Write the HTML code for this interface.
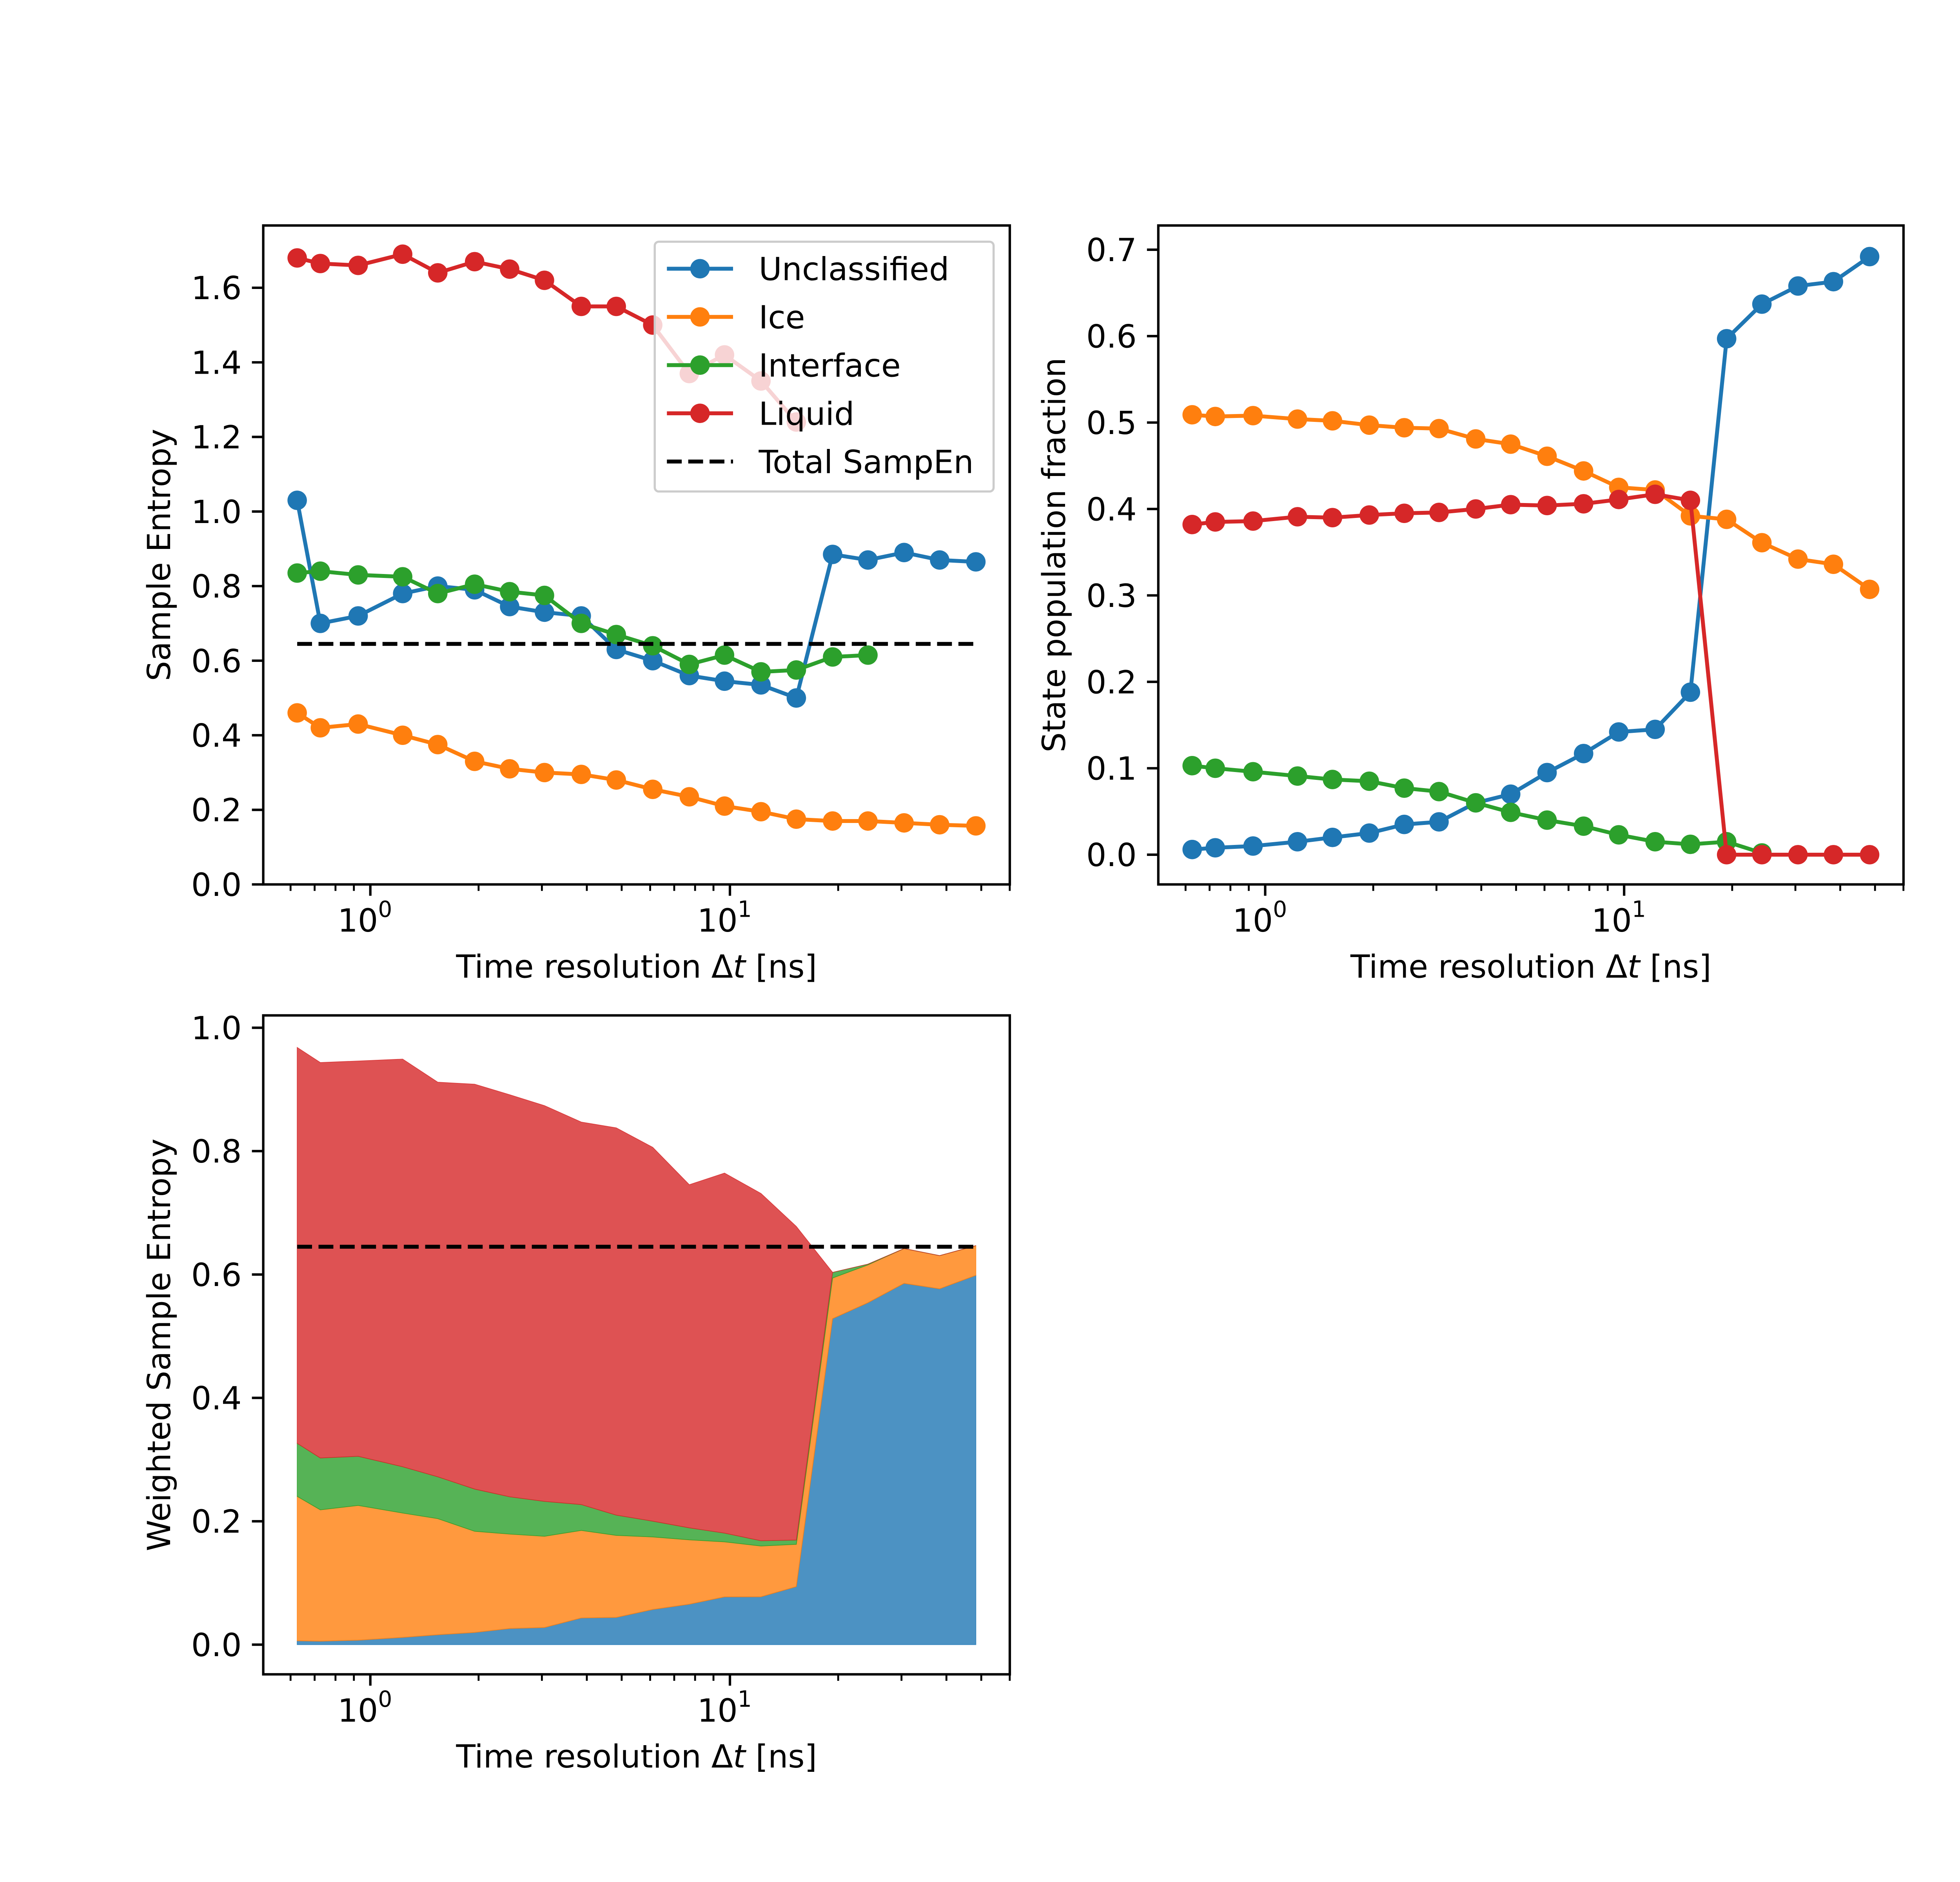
<!DOCTYPE html>
<html><head><meta charset="utf-8"><style>
html,body{margin:0;padding:0;background:#fff;overflow:hidden;width:5400px;height:4800px}
svg{display:block}
text{font-family:"DejaVu Sans","Liberation Sans",sans-serif;fill:#000}
</style></head><body>
<svg id="fig" xmlns="http://www.w3.org/2000/svg" width="5400" height="4800" viewBox="0 0 1568 1393.8" preserveAspectRatio="none">
<rect width="1568" height="1393.8" fill="#fff"/>
</svg>
<script>
const timeRes=[0.626,0.726,0.925,1.23,1.54,1.95,2.44,3.05,3.86,4.83,6.10,7.71,9.66,12.2,15.3,19.3,24.2,30.5,38.3,48.3];
const seUnclassified=[1.03,0.70,0.72,0.78,0.80,0.79,0.745,0.73,0.72,0.63,0.60,0.56,0.545,0.535,0.50,0.885,0.87,0.89,0.87,0.865];
const seIce=[0.46,0.42,0.43,0.40,0.375,0.33,0.31,0.30,0.295,0.28,0.255,0.235,0.21,0.195,0.175,0.17,0.17,0.165,0.16,0.157];
const seInterface=[0.835,0.84,0.83,0.825,0.78,0.805,0.785,0.775,0.70,0.67,0.64,0.59,0.615,0.57,0.575,0.61,0.615];
const seLiquid=[1.68,1.665,1.66,1.69,1.64,1.67,1.65,1.62,1.55,1.55,1.50,1.37,1.42,1.35,1.24];
const totalSampEn=0.645;
const popUnclassified=[0.006,0.008,0.01,0.015,0.02,0.025,0.035,0.038,0.06,0.07,0.095,0.117,0.142,0.145,0.188,0.597,0.637,0.658,0.663,0.692];
const popIce=[0.509,0.507,0.508,0.504,0.502,0.497,0.494,0.493,0.481,0.475,0.461,0.444,0.425,0.422,0.392,0.388,0.361,0.342,0.336,0.307];
const popInterface=[0.103,0.100,0.096,0.091,0.087,0.085,0.077,0.073,0.06,0.049,0.040,0.033,0.023,0.015,0.012,0.015,0.002];
const popLiquid=[0.382,0.385,0.386,0.391,0.390,0.393,0.395,0.396,0.400,0.405,0.404,0.406,0.411,0.417,0.410,0.0,0.0,0.0,0.0,0.0];
const yTicksSE=[0,0.2,0.4,0.6,0.8,1.0,1.2,1.4,1.6];
const yTicksPop=[0,0.1,0.2,0.3,0.4,0.5,0.6,0.7];
const yTicksW=[0,0.2,0.4,0.6,0.8,1.0];
const xTickExp=[0,1];
const seriesNames=["Unclassified","Ice","Interface","Liquid"];
const colors=["#1f77b4","#ff7f0e","#2ca02c","#d62728"];

const NS="http://www.w3.org/2000/svg";
const fig=document.getElementById('fig');
function mk(tag,attrs,parent){const e=document.createElementNS(NS,tag);for(const k in attrs)e.setAttribute(k,attrs[k]);(parent||fig).appendChild(e);return e;}
const FS=23.5, LW=2.9, AW=1.8, MR=7.2, DASH='11,4.8';

const lmin=Math.log10(timeRes[0]),lmax=Math.log10(timeRes[timeRes.length-1]);
const pad=(lmax-lmin)*0.05;
function makeAxes(name,x0,y0,w,h,ymin,ymax){
  const g=mk('g',{});
  
  
  return {g,x0,y0,w,h,
    sx:v=>x0+(Math.log10(v)-(lmin-pad))/((lmax+pad)-(lmin-pad))*w,
    sy:v=>y0+h-(v-ymin)/(ymax-ymin)*h};
}
function drawFrame(ax,yticks,ylabel){
  const g=ax.g;
  const fr=mk('rect',{x:ax.x0,y:ax.y0,width:ax.w,height:ax.h,fill:'none',stroke:'#000','stroke-width':AW},g);
  
  const yb=ax.y0+ax.h;
  for(let e=-1;e<=1;e++)for(let m=2;m<=9;m++){const v=m*Math.pow(10,e);const x=ax.sx(v);
    if(x<ax.x0||x>ax.x0+ax.w)continue;
    const t=mk('line',{x1:x,x2:x,y1:yb,y2:yb+4.8,stroke:'#000','stroke-width':1.4},g);
    }
  xTickExp.forEach(p=>{const x=ax.sx(Math.pow(10,p));
    const t=mk('line',{x1:x,x2:x,y1:yb,y2:yb+8.4,stroke:'#000','stroke-width':AW},g);
    
    const tx=mk('text',{x:x-4,y:yb+35,'font-size':FS,'text-anchor':'middle'},g);
    
    tx.textContent='10';
    const sup=mk('tspan',{dy:-11,'font-size':FS*0.7},tx);sup.textContent=String(p);
  });
  yticks.forEach(v=>{const y=ax.sy(v);
    const t=mk('line',{x1:ax.x0-8.4,x2:ax.x0,y1:y,y2:y,stroke:'#000','stroke-width':AW},g);
    
    const tx=mk('text',{x:ax.x0-16,y:y+8.5,'font-size':FS,'text-anchor':'end'},g);
    
    tx.textContent=v.toFixed(1);});
  const xl=mk('text',{x:ax.x0+ax.w/2,y:yb+69,'font-size':FS,'text-anchor':'middle'},g);
  
  xl.innerHTML='Time resolution Δ<tspan font-style="italic">t</tspan> [ns]';
  const yl=mk('text',{x:0,y:0,'font-size':FS,'text-anchor':'middle',transform:`translate(${ax.x0-69},${ax.y0+ax.h/2}) rotate(-90)`},g);
  
  yl.textContent=ylabel;
}
function drawSeries(ax,vals,color,name){
  const pts=vals.map((v,i)=>[ax.sx(timeRes[i]),ax.sy(v)]);
  const pl=mk('polyline',{points:pts.map(p=>p.join(',')).join(' '),fill:'none',stroke:color,'stroke-width':LW,'stroke-linejoin':'round'},ax.g);
  
  pts.forEach(p=>{const c=mk('circle',{cx:p[0],cy:p[1],r:MR,fill:color},ax.g);
    });
}
function dashed(ax,v){
  const l=mk('line',{x1:ax.sx(timeRes[0]),x2:ax.sx(timeRes[timeRes.length-1]),y1:ax.sy(v),y2:ax.sy(v),stroke:'#000','stroke-width':LW,'stroke-dasharray':DASH},ax.g);
  
}

const a1=makeAxes('sample-entropy-chart',195,167,553,488,0,1.767);
drawFrame(a1,yTicksSE,'Sample Entropy');
const seAll=[seUnclassified,seIce,seInterface,seLiquid];
seAll.forEach((s,i)=>drawSeries(a1,s,colors[i],seriesNames[i].toLowerCase()));
dashed(a1,totalSampEn);
const lg=mk('g',{},a1.g);

const lr=mk('rect',{x:485,y:179,width:251,height:185,rx:3,fill:'#fff','fill-opacity':0.8,stroke:'#ccc','stroke-width':1.6},lg);

const legNames=seriesNames.concat(['Total SampEn']);
legNames.forEach((n,i)=>{const y=199+i*35.7;
  const e=mk('g',{},lg);
  
  if(i<4){mk('line',{x1:494,x2:543,y1:y,y2:y,stroke:colors[i],'stroke-width':LW},e);
    mk('circle',{cx:518.5,cy:y,r:MR,fill:colors[i]},e);}
  else mk('line',{x1:494,x2:543,y1:y,y2:y,stroke:'#000','stroke-width':LW,'stroke-dasharray':DASH},e);
  const t=mk('text',{x:562,y:y+8.5,'font-size':FS},e);t.textContent=n;
});

const a2=makeAxes('population-fraction-chart',858,167,552,488,-0.0344,0.728);
drawFrame(a2,yTicksPop,'State population fraction');
const popAll=[popUnclassified,popIce,popInterface,popLiquid];
popAll.forEach((s,i)=>drawSeries(a2,s,colors[i],seriesNames[i].toLowerCase()));

const a3=makeAxes('weighted-entropy-chart',195,752,553,488,-0.0481,1.02);
const layers=[0,1,2,3].map(k=>timeRes.map((_,i)=>(popAll[k][i]||0)*(seAll[k][i]||0)));
let base=timeRes.map(()=>0);
layers.forEach((L,k)=>{
  const top=base.map((b,i)=>b+L[i]);
  const up=top.map((v,i)=>a3.sx(timeRes[i])+','+a3.sy(v));
  const dn=base.map((v,i)=>a3.sx(timeRes[i])+','+a3.sy(v)).reverse();
  const p=mk('polygon',{points:up.concat(dn).join(' '),fill:colors[k],'fill-opacity':0.8,stroke:colors[k],'stroke-opacity':0.8,'stroke-width':0.5},a3.g);
  
  base=top;
});
dashed(a3,totalSampEn);
drawFrame(a3,yTicksW,'Weighted Sample Entropy');
</script>
</body></html>
